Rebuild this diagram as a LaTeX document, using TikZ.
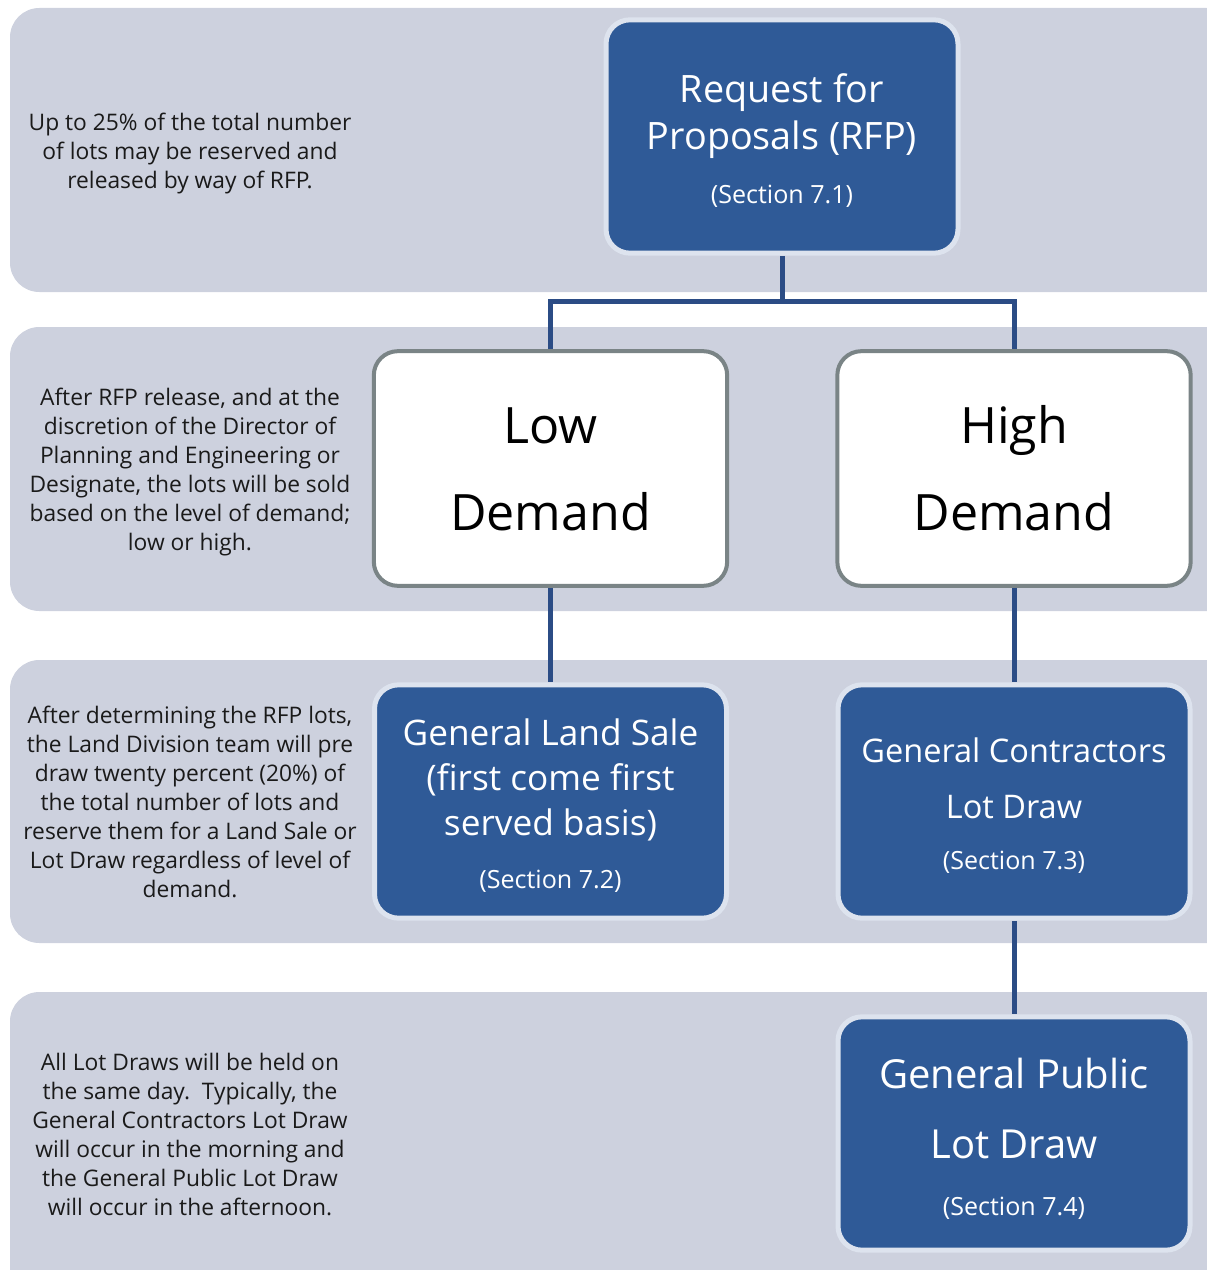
\documentclass[tikz,border=0pt]{standalone}
\usepackage{fontspec}
\setmainfont{Open Sans}
\usetikzlibrary{positioning,backgrounds}
\definecolor{bandgray}{HTML}{CDD1DE}
\definecolor{boxblue}{HTML}{2F5A97}
\definecolor{rimblue}{HTML}{DDE3EE}
\definecolor{rimgray}{HTML}{7A8486}
\definecolor{linkblue}{HTML}{2B4C85}
\definecolor{notetext}{HTML}{1A1A1A}
\newcommand{\fsz}[2]{\fontsize{#1}{#2}\selectfont}
\newcommand{\toprule}[1]{\rule{0pt}{#1}}
\begin{document}
\begin{tikzpicture}[x=0.75pt,y=-0.75pt,
    band/.style={fill=bandgray, rounded corners=22pt},
    bluebox/.style={draw=rimblue, fill=boxblue, line width=3.75pt, rounded corners=18pt,
                    minimum width=264pt, minimum height=175pt, text=white, align=center, inner sep=0pt},
    whitebox/.style={draw=rimgray, fill=white, line width=3pt, rounded corners=18pt,
                     minimum width=265pt, minimum height=176pt, text=black, align=center, inner sep=0pt},
    note/.style={text=notetext, align=center, font=\fsz{17.1}{21.75}, inner sep=0pt},
    link/.style={draw=linkblue, line width=3.75pt}]
  \useasboundingbox (0,0) rectangle (1206,1270);
  \clip (0,0) rectangle (1206,1270);
  % bands
  \begin{scope}[on background layer]
    \fill[band] (10,8) rectangle (1236,292);
    \fill[band] (10,327) rectangle (1236,611);
    \fill[band] (10,660) rectangle (1236,943);
    \fill[band] (10,992) rectangle (1236,1300);
  \end{scope}
  % boxes
  \node[bluebox, font=\fsz{28.3}{35.25}] (rfp) at (782,136.5)
    {\toprule{27.5pt}Request for\\Proposals (RFP)\\[5.25pt]{\fsz{18.8}{24}(Section 7.1)}};
  \node[whitebox, font=\fsz{37.6}{65}] (low) at (550.5,468.5) {\vphantom{h}Low\\Demand};
  \node[whitebox, font=\fsz{37.6}{65}] (high) at (1014,468.5) {High\\Demand};
  \node[bluebox, font=\fsz{26.4}{33.75}] (landsale) at (550.5,801.5)
    {\toprule{26.1pt}General Land Sale\\(first come first\\served basis)\\[6pt]{\fsz{18.8}{24}(Section 7.2)}};
  \node[bluebox, font=\fsz{24.4}{42}] (contractors) at (1014,801.5)
    {\toprule{24.5pt}General Contractors\\Lot Draw\\[-4pt]{\fsz{18.8}{24}(Section 7.3)}};
  \node[bluebox, font=\fsz{30}{52.5}] (public) at (1014,1133.5)
    {\toprule{30.3pt}General Public\\Lot Draw\\[-9.5pt]{\fsz{18.8}{24}(Section 7.4)}};
  % notes
  \node[note] (n1) at (190,154) {Up to 25\% of the total number\\of lots may be reserved and\\released by way of RFP.};
  \node[note] (n2) at (190,472) {After RFP release, and at the\\discretion of the Director of\\Planning and Engineering or\\Designate, the lots will be sold\\based on the level of demand;\\low or high.};
  \node[note] (n3) at (190,802) {After determining the RFP lots,\\the Land Division team will pre\\draw twenty percent (20\%) of\\the total number of lots and\\reserve them for a Land Sale or\\Lot Draw regardless of level of\\demand.};
  \node[note] (n4) at (190,1134.5) {All Lot Draws will be held on\\the same day.\ \ Typically, the\\General Contractors Lot Draw\\will occur in the morning and\\the General Public Lot Draw\\will occur in the afternoon.};
  % links
  \begin{scope}[on background layer]
    \coordinate (split) at (782,301);
    \draw[link] (rfp.south) -- (split) -| (low.north);
    \draw[link] (split) -| (high.north);
    \draw[link] (low.south) -- (landsale.north);
    \draw[link] (high.south) -- (contractors.north);
    \draw[link] (contractors.south) -- (public.north);
  \end{scope}
\end{tikzpicture}
\end{document}
